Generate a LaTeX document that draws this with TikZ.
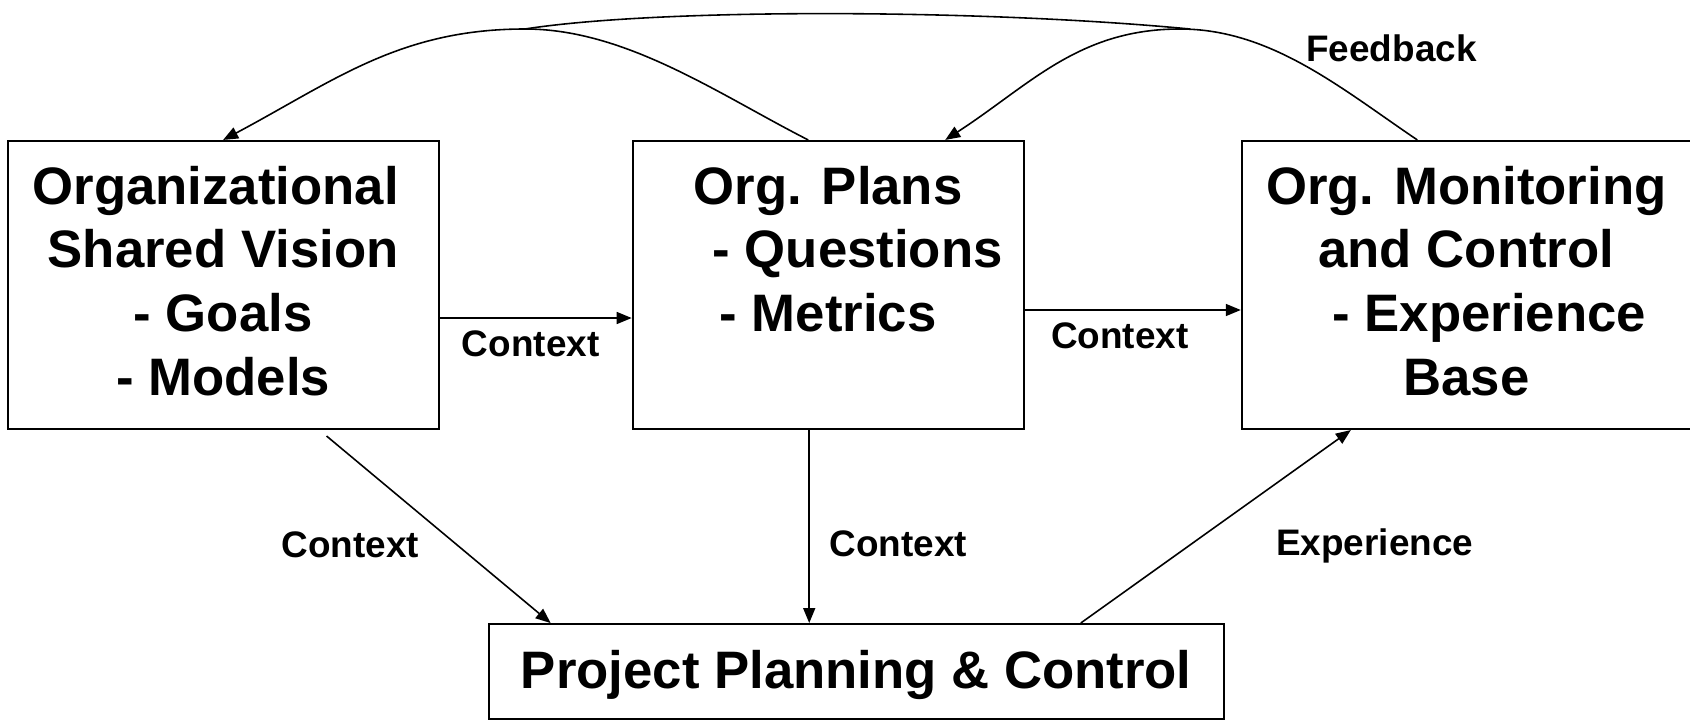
\documentclass[tikz,border=0pt]{standalone}
\usepackage{fontspec}
\setmainfont{Liberation Sans}
\usetikzlibrary{arrows.meta,positioning}

\begin{document}
\begin{tikzpicture}[node distance=1.92cm, >={Triangle[length=0.15cm,width=0.12cm]}]

\tikzstyle{box} = [rectangle, draw=black, line width=0.6pt, inner sep=0pt, minimum height=2.88cm, align=center, font=\bfseries\fontsize{15}{18.1}\selectfont]
\tikzstyle{lbl} = [font=\bfseries\fontsize{10.5}{12.6}\selectfont]
\tikzstyle{con} = [->, line width=0.45pt]

\useasboundingbox (0,0) rectangle (16.9,7.21);

\node (org) [box, minimum width=4.31cm] at (2.231,4.36) {Organizational\hspace*{0.15cm}\\Shared Vision\\- Goals\\- Models\rule[-0.09cm]{0pt}{0pt}};
\node (plans) [box, minimum width=3.91cm, right=1.92cm of org] {Org. Plans\\\hspace*{0.59cm}- Questions\\- Metrics\\\rule[-0.09cm]{0pt}{0pt}};
\node (mon) [box, minimum width=4.49cm, right=2.16cm of plans] {Org. Monitoring\\and Control\\\hspace*{0.46cm}- Experience\\Base\rule[-0.09cm]{0pt}{0pt}};
\node (proj) [box, minimum width=7.35cm, minimum height=0.95cm, below=1.93cm of plans, xshift=0.28cm] {\rule{0pt}{0.45cm}Project Planning \& Control};

% context flows
\draw[con] ([yshift=-0.33cm]org.east) -- ([yshift=-0.33cm]plans.west) node[lbl, midway, below, xshift=-0.05cm] (ctx1) {Context};
\draw[con] ([yshift=-0.25cm]plans.east) -- ([yshift=-0.25cm]mon.west) node[lbl, midway, below, xshift=-0.13cm] (ctx2) {Context};
\draw[con] ([xshift=1.035cm, yshift=-0.06cm]org.south) -- ([xshift=0.63cm]proj.north west) node[lbl, pos=0.58, left=0.25cm] (ctx3) {Context};
\coordinate (drop) at ([xshift=-0.19cm]plans.south);
\draw[con] (drop) -- (drop |- proj.north) node[lbl, pos=0.59, right=0.08cm] (ctx4) {Context};
\draw[con] ([xshift=2.245cm]proj.north) -- ([xshift=-1.155cm]mon.south) node[lbl, pos=0.4, right=0.75cm] (exp) {Experience};

% feedback loop
\coordinate (humpL) at (5.25,6.92);
\coordinate (humpR) at (11.80,6.92);
\draw[con] ([xshift=-0.2cm]plans.north) to[out=153,in=0,looseness=0.85] (humpL) to[out=180,in=28] (org.north);
\draw[con] ([xshift=-0.49cm]mon.north) to[out=146,in=0,looseness=0.89] (humpR) to[out=180,in=33] ([xshift=1.17cm]plans.north);
\draw[line width=0.45pt] (humpL) .. controls (6.6,7.13) and (9.8,7.12) .. ([xshift=0.1cm]humpR);
\node (fb) [lbl] at (13.915,6.73) {Feedback};

\end{tikzpicture}
\end{document}
